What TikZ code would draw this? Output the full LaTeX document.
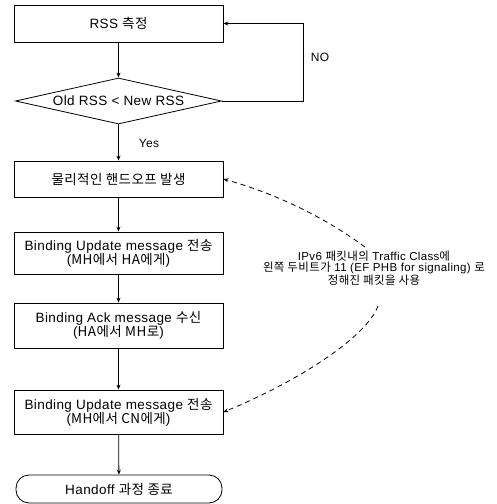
\documentclass[tikz,border=0pt]{standalone}
\usepackage{fontspec}
\setmainfont{Liberation Sans}[LetterSpace=3]
\newfontfamily\kr{Noto Sans CJK KR}[LetterSpace=3]
\usetikzlibrary{shapes.geometric,arrows.meta}
\begin{document}
\begin{tikzpicture}[x=1pt,y=-1pt,
  every node/.style={font=\fontsize{13.5}{14}\selectfont},
  stepbox/.style={draw, line width=0.8pt, minimum width=209pt, inner sep=1pt, align=center},
  flow/.style={line width=0.8pt, -{Stealth[length=5pt,width=4pt]}},
  dasharrow/.style={line width=0.8pt, dash pattern=on 5pt off 4pt, -{Stealth[length=5pt,width=4pt]}},
  lbl/.style={font=\fontsize{12}{14}\selectfont}]
\useasboundingbox (0,0) rectangle (497,504);
\node[stepbox, minimum height=37pt] (b1) at (118.5,23.5) {RSS {\kr 측정}};
\node[draw, diamond, line width=0.8pt, aspect=4.5, minimum width=206pt, minimum height=46pt, inner sep=0pt] (d) at (118.5,101) {Old RSS < New RSS};
\node[stepbox, minimum height=36pt] (b3) at (118.5,179) {{\kr 물리적인 핸드오프 발생}};
\node[stepbox, minimum height=42pt] (b4) at (118.5,253) {Binding Update message {\kr 전송}\\({\kr MH에서 HA에게})};
\node[stepbox, minimum height=45pt] (b5) at (118.5,325.5) {Binding Ack message {\kr 수신}\\({\kr HA에서 MH로})};
\node[stepbox, minimum height=44pt] (b6) at (118.5,412) {Binding Update message {\kr 전송}\\({\kr MH에서 CN에게})};
\node[draw, line width=0.8pt, rounded corners=13pt, minimum width=206pt, minimum height=28pt, inner sep=1pt] (t) at (119,489) {Handoff {\kr 과정 종료}};
\node[lbl] (no) at (320,57) {NO};
\node[lbl] (yes) at (149,143) {Yes};
\node[font=\fontsize{11.5}{11.5}\selectfont, align=center, inner sep=1pt] (ann) at (374,268) {IPv6 {\kr 패킷내의} Traffic Class{\kr 에}\\{\kr 왼쪽 두비트가} 11 (EF PHB for signaling) {\kr 로}\\{\kr 정해진 패킷을 사용}};
\coordinate (noc) at (303,101);
\coordinate (c1) at (365,247);
\coordinate (c2) at (378,306);
\draw[flow] (b1) -- (d);
\draw[flow] (d) -- (b3);
\draw[flow] (b3) -- (b4);
\draw[flow] (b4) -- (b5);
\draw[flow] (b5) -- (b6);
\draw[flow] (b6) -- (t);
\draw[flow] (d.east) -- (noc) |- (b1.east);
\draw[dasharrow] (c1) .. controls (327,219) and (280,195) .. (b3.east);
\draw[dasharrow] (c2) .. controls (365,340) and (290,385) .. (b6.east);
\end{tikzpicture}
\end{document}
